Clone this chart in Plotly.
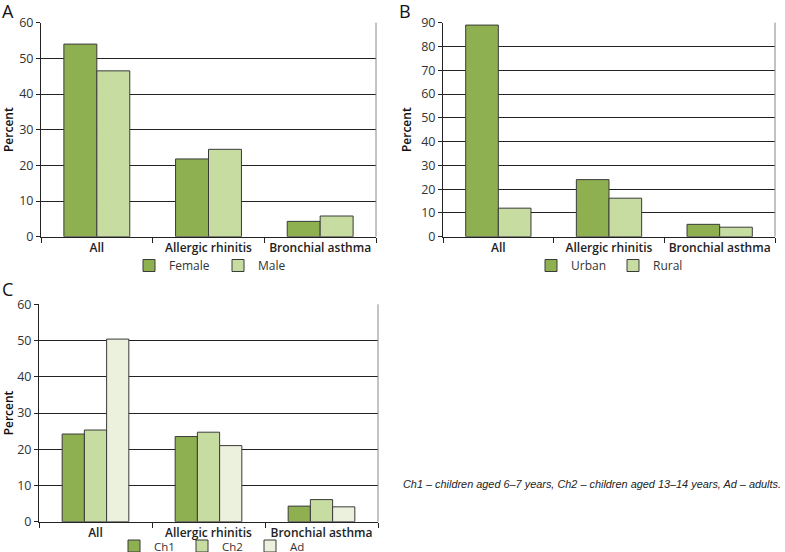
import plotly.graph_objects as go

W, H = 785, 552

categories = ["All", "Allergic rhinitis", "Bronchial asthma"]

# panel A - sex
female = [54.0, 21.8, 4.3]
male = [46.5, 24.5, 5.8]

# panel B - place of residence
urban = [89.0, 24.0, 5.2]
rural = [12.0, 16.2, 4.0]

# panel C - age group
ch1 = [24.2, 23.5, 4.3]
ch2 = [25.3, 24.7, 6.1]
ad = [50.4, 21.0, 4.1]

ticks_a = [0, 10, 20, 30, 40, 50, 60]
ticks_b = [0, 10, 20, 30, 40, 50, 60, 70, 80, 90]
ticks_c = [0, 10, 20, 30, 40, 50, 60]

DARK = "#8fb050"
LIGHT = "#c6dca0"
PALE = "#ebf1dc"
OUTLINE = "#3a3a3a"


def px_x(x):
    return x / W


def px_y(y):
    return 1 - y / H


def bar(name, vals, color, axis, legend):
    return go.Bar(
        name=name, x=categories, y=vals,
        xaxis="x" + axis, yaxis="y" + axis, legend=legend,
        marker=dict(color=color, line=dict(color=OUTLINE, width=1)),
    )


fig = go.Figure()
fig.add_trace(bar("Female", female, DARK, "", "legend"))
fig.add_trace(bar("Male", male, LIGHT, "", "legend"))
fig.add_trace(bar("Urban", urban, DARK, "2", "legend2"))
fig.add_trace(bar("Rural", rural, LIGHT, "2", "legend2"))
fig.add_trace(bar("Ch1", ch1, DARK, "3", "legend3"))
fig.add_trace(bar("Ch2", ch2, LIGHT, "3", "legend3"))
fig.add_trace(bar("Ad", ad, PALE, "3", "legend3"))

tick_font = dict(family="Open Sans", size=12.5, color="#333")
cat_font = dict(family="Open Sans", size=12, color="#222", weight=600)


def xax(domain, anchor):
    return dict(
        domain=domain, anchor=anchor, type="category", tickangle=0,
        automargin=False,
        showline=True, linecolor="#222", linewidth=1,
        ticks="outside", tickson="boundaries", ticklen=5, tickcolor="#222",
        tickfont=cat_font, showgrid=False,
    )


def yax(domain, anchor, tickvals):
    return dict(
        domain=domain, anchor=anchor, range=[0, tickvals[-1]],
        automargin=False,
        tickvals=tickvals, showline=True, linecolor="#222", linewidth=1,
        ticks="outside", ticklen=4, tickcolor="#222", tickfont=tick_font,
        showgrid=True, gridcolor="#222", gridwidth=1, zeroline=False,
        title=dict(text="Percent", standoff=6,
                   font=dict(family="Open Sans", size=12, color="#111", weight=600)),
    )


dom_a = ([px_x(41), px_x(376)], [px_y(236.7), px_y(22.7)])
dom_b = ([px_x(443), px_x(775)], [px_y(236.7), px_y(22.7)])
dom_c = ([px_x(39), px_x(378)], [px_y(521.7), px_y(304.3)])

legend_common = dict(
    orientation="h", yanchor="middle", xanchor="left",
    font=dict(family="Open Sans", size=12, color="#333"),
    entrywidthmode="pixels", bgcolor="rgba(0,0,0,0)", tracegroupgap=0,
)

fig.update_layout(
    template="none",
    width=W, height=H,
    margin=dict(l=0, r=0, t=0, b=0, autoexpand=False),
    paper_bgcolor="white", plot_bgcolor="white",
    barmode="group", bargap=0.41, bargroupgap=0,
    xaxis=xax(dom_a[0], "y"), yaxis=yax(dom_a[1], "x", ticks_a),
    xaxis2=xax(dom_b[0], "y2"), yaxis2=yax(dom_b[1], "x2", ticks_b),
    xaxis3=xax(dom_c[0], "y3"), yaxis3=yax(dom_c[1], "x3", ticks_c),
    legend=dict(legend_common, x=px_x(129), y=px_y(265.5), entrywidth=44),
    legend2=dict(legend_common, x=px_x(531), y=px_y(265.5), entrywidth=37),
    legend3=dict(legend_common, x=px_x(114), y=px_y(546), entrywidth=23,
                 font=dict(family="Open Sans", size=11.5, color="#333")),
    showlegend=True,
)

# grey right frame line of each plot area
for ax in ["x", "x2", "x3"]:
    yref = "y" + ax[1:]
    fig.add_shape(type="line", xref=ax + " domain", yref=yref + " domain",
                  x0=1, x1=1, y0=0, y1=1, line=dict(color="#888", width=1))

panel_font = dict(family="Open Sans", size=18, color="#111")
for label, x, y in [("A", 0, 11), ("B", 397, 11), ("C", 0, 289)]:
    fig.add_annotation(text=label, x=px_x(x), y=px_y(y), xref="paper", yref="paper",
                       xanchor="left", yanchor="middle", showarrow=False, font=panel_font)

fig.add_annotation(
    text="<i>Ch1 – children aged 6–7 years, Ch2 – children aged 13–14 years, Ad – adults.</i>",
    x=px_x(783), y=px_y(484), xref="paper", yref="paper",
    xanchor="right", yanchor="middle", showarrow=False,
    font=dict(family="Liberation Sans", size=10.9, color="#222"),
)

# page body has a default 8px margin; drop it so the figure fills the window
fig.write_html("out.html", config={"displayModeBar": False},
               post_script="document.body.style.margin='0';")
